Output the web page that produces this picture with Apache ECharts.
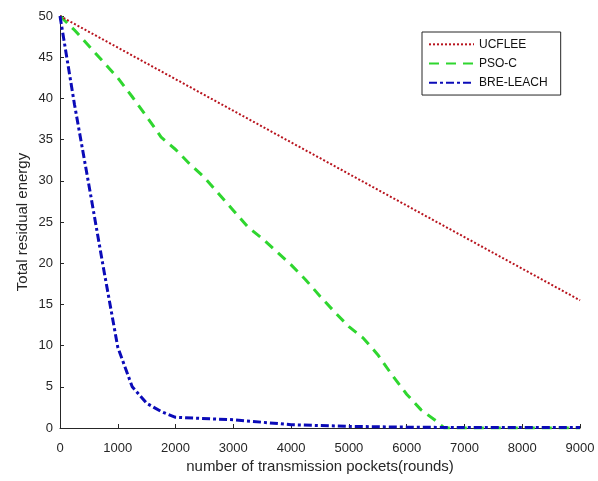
<!DOCTYPE html>
<html>
<head>
    <title>Total residual energy</title>
    <style>
        body {
            margin: 0;
            background: #fff;
        }

        #chart {
            width: 598px;
            height: 481px;
        }
    </style>
    <script src="https://cdn.jsdelivr.net/npm/echarts@6/dist/echarts.min.js"></script>
</head>
<body>
    <div id="chart"></div>

    <script>
        // rounds vs residual energy
        var ucfleeX = [0, 9000];
        var ucfleeY = [50, 15.5];

        var psoX = [0, 250, 1000, 1250, 1500, 1750, 2000, 2250, 2500, 2750, 3000, 3250, 3500, 3750, 4000, 4250, 4500, 4750, 5000, 5250, 5500, 5750, 6000, 6250, 6500, 6650, 9000];
        var psoY = [50, 48.3, 42.5, 40.2, 37.8, 35.3, 33.8, 32.0, 30.4, 28.4, 26.4, 24.4, 23.0, 21.4, 19.8, 18.0, 16.0, 14.1, 12.3, 10.9, 8.9, 6.4, 4.1, 2.2, 0.9, 0, 0];

        var breX = [0, 250, 500, 750, 1000, 1250, 1500, 1750, 2000, 3000, 4000, 5000, 6000, 7000, 9000];
        var breY = [50, 39.3, 29.5, 19.5, 9.8, 5.0, 3.0, 2.0, 1.3, 1.0, 0.4, 0.2, 0.1, 0.05, 0.05];

        var xTicks = [0, 1000, 2000, 3000, 4000, 5000, 6000, 7000, 8000, 9000];
        var yTicks = [0, 5, 10, 15, 20, 25, 30, 35, 40, 45, 50];

        function pairs(xs, ys) {
            return xs.map(function (x, i) {
                return [x, ys[i]];
            });
        }

        var font = '"Liberation Sans", Arial, sans-serif';
        var ink = '#262626';

        var chart = echarts.init(document.getElementById('chart'));

        var option = {
            backgroundColor: '#fff',
            animation: false,
            grid: {
                left: 60,
                right: 18,
                top: 16,
                bottom: 53,
                outerBoundsMode: 'none'
            },
            legend: {
                orient: 'vertical',
                left: 422,
                top: 32,
                itemWidth: 45,
                itemHeight: 12,
                itemGap: -1.5,
                padding: [2, 13, 2, 6],
                borderColor: ink,
                borderWidth: 1,
                itemStyle: { opacity: 0 },
                textStyle: {
                    fontFamily: font,
                    fontSize: 12,
                    color: '#111'
                },
                data: ['UCFLEE', 'PSO-C', 'BRE-LEACH']
            },
            xAxis: {
                type: 'value',
                min: xTicks[0],
                max: xTicks[xTicks.length - 1],
                interval: 1000,
                name: 'number of transmission pockets(rounds)',
                nameLocation: 'middle',
                nameGap: 26,
                nameMoveOverlap: false,
                nameTextStyle: { fontFamily: font, fontSize: 15, color: ink },
                axisLine: { lineStyle: { color: ink } },
                axisTick: { inside: true, length: 4, lineStyle: { color: ink } },
                axisLabel: {
                    fontFamily: font, fontSize: 13, color: ink, margin: 9,
                    formatter: function (v) { return String(v); }
                },
                splitLine: { show: false }
            },
            yAxis: {
                type: 'value',
                min: yTicks[0],
                max: yTicks[yTicks.length - 1],
                interval: 5,
                name: 'Total residual energy',
                nameLocation: 'middle',
                nameGap: 24,
                nameMoveOverlap: false,
                nameTextStyle: { fontFamily: font, fontSize: 15, color: ink },
                axisLine: { show: true, lineStyle: { color: ink } },
                axisTick: { show: true, inside: true, length: 4, lineStyle: { color: ink } },
                axisLabel: { fontFamily: font, fontSize: 13, color: ink, margin: 7 },
                splitLine: { show: false }
            },
            series: [
                {
                    name: 'UCFLEE',
                    type: 'line',
                    symbol: 'none',
                    data: pairs(ucfleeX, ucfleeY),
                    color: '#b8141e',
                    lineStyle: { width: 2, type: [2, 2], color: '#b8141e' },
                    z: 3
                },
                {
                    name: 'PSO-C',
                    type: 'line',
                    symbol: 'none',
                    data: pairs(psoX, psoY),
                    color: '#2fd62f',
                    lineStyle: { width: 3, type: [10, 7], color: '#2fd62f' },
                    z: 2
                },
                {
                    name: 'BRE-LEACH',
                    type: 'line',
                    symbol: 'none',
                    data: pairs(breX, breY),
                    color: '#0b0bb8',
                    lineStyle: { width: 3, type: [8, 3, 3, 3], color: '#0b0bb8' },
                    z: 4
                }
            ]
        };

        chart.setOption(option);
    </script>
</body>
</html>
